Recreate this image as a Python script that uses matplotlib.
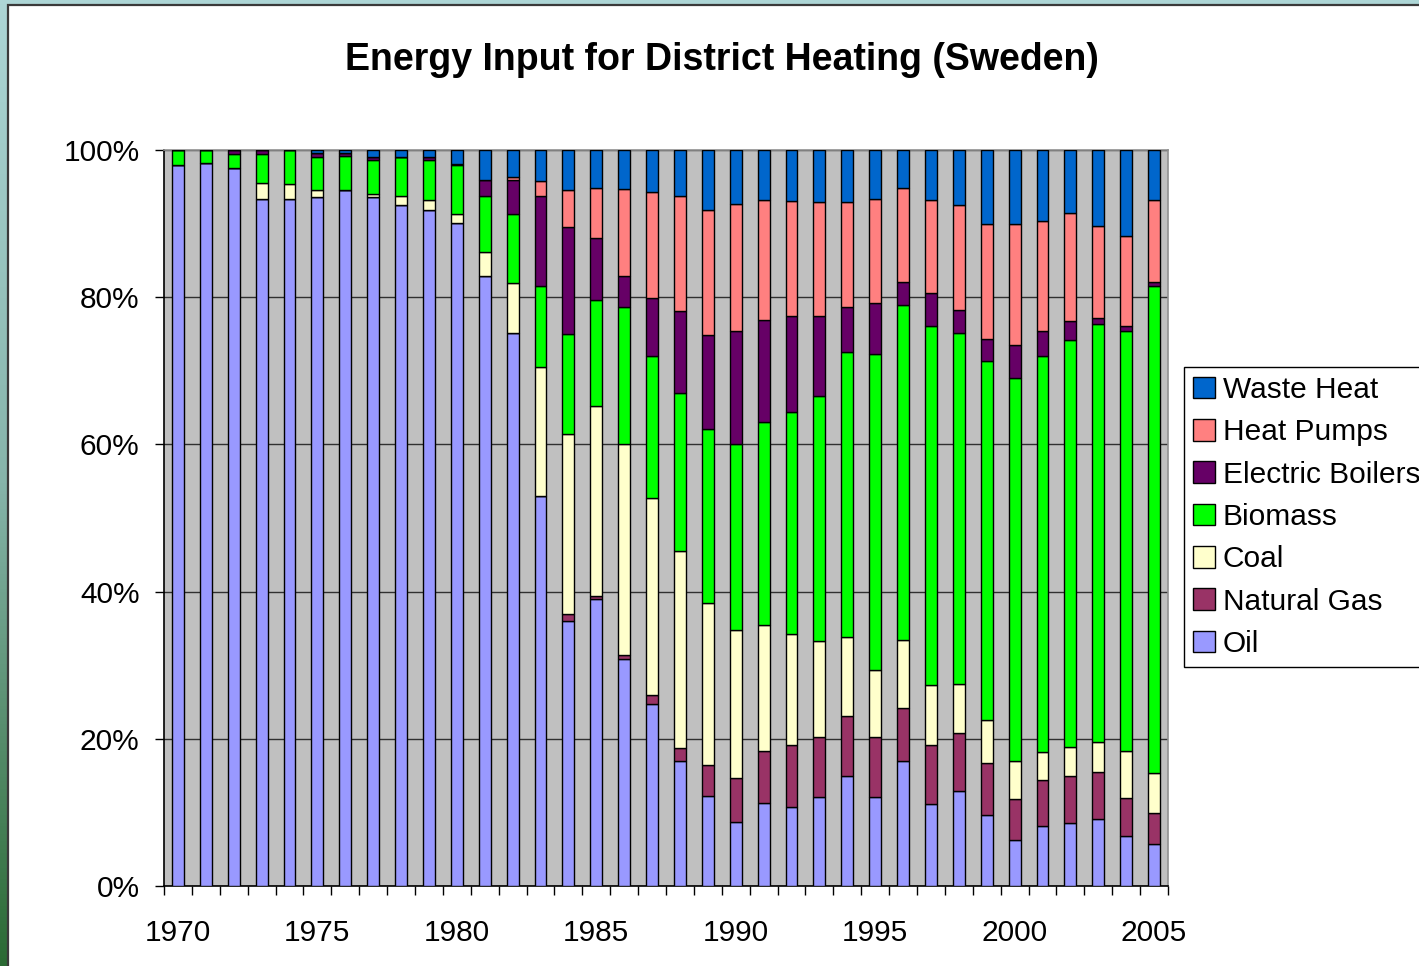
import numpy as np
import matplotlib.pyplot as plt
from matplotlib.patches import Rectangle
from matplotlib.colors import LinearSegmentedColormap

plt.rcParams['font.family'] = ['Liberation Sans', 'DejaVu Sans']

years = list(range(1970, 2006))

# shares in percent (bottom of stack first)
oil = [98.0, 98.2, 97.55, 93.4, 93.3, 93.6, 94.5, 93.65, 92.5, 91.75,
       90.1, 82.9, 75.1, 53.0, 36.0, 38.95, 30.8, 24.8, 16.9, 12.2,
       8.7, 11.3, 10.8, 12.1, 14.9, 12.1, 16.9, 11.2, 12.9, 9.6,
       6.3, 8.1, 8.5, 9.1, 6.8, 5.7]
natural_gas = [0, 0, 0, 0, 0, 0, 0, 0, 0, 0,
               0, 0, 0, 0, 0.9, 0.4, 0.55, 1.1, 1.85, 4.2,
               6.0, 7.0, 8.35, 8.1, 8.2, 8.1, 7.2, 7.9, 7.8, 7.1,
               5.5, 6.3, 6.4, 6.4, 5.1, 4.2]
coal = [0, 0, 0, 2.05, 2.1, 0.9, 0, 0.35, 1.3, 1.45,
        1.15, 3.3, 6.7, 17.4, 24.4, 25.9, 28.7, 26.8, 26.7, 22.0,
        20.0, 17.1, 15.1, 13.1, 10.7, 9.1, 9.3, 8.2, 6.7, 5.8,
        5.1, 3.8, 4.0, 4.0, 6.5, 5.5]
biomass = [2.0, 1.8, 1.85, 3.95, 4.6, 4.5, 4.7, 4.7, 5.2, 5.4,
           6.6, 7.6, 9.4, 11.1, 13.6, 14.35, 18.7, 19.3, 21.4, 23.6,
           25.3, 27.6, 30.2, 33.3, 38.7, 42.9, 45.5, 48.8, 47.7, 48.8,
           52.0, 53.8, 55.3, 56.8, 57.0, 66.1]
electric_boilers = [0, 0, 0.6, 0.6, 0, 0.55, 0.35, 0.3, 0, 0.45,
                    0.2, 2.2, 4.65, 12.2, 14.4, 8.4, 4.2, 7.9, 11.1, 12.7,
                    15.35, 13.85, 12.95, 10.8, 6.1, 6.9, 3.1, 4.5, 3.1, 3.0,
                    4.5, 3.3, 2.5, 0.9, 0.7, 0.6]
heat_pumps = [0, 0, 0, 0, 0, 0, 0, 0, 0, 0,
              0, 0, 0.45, 2.0, 5.1, 6.9, 11.8, 14.5, 15.5, 16.9,
              17.3, 16.35, 15.7, 15.5, 14.3, 14.2, 12.7, 12.6, 14.2, 15.5,
              16.4, 14.9, 14.8, 12.5, 12.2, 11.1]
waste_heat = [0, 0, 0, 0, 0, 0.45, 0.45, 1.0, 1.0, 0.9,
              1.9, 4.1, 3.6, 4.2, 5.4, 5.1, 5.3, 5.65, 6.3, 8.2,
              7.3, 6.75, 6.9, 7.1, 7.0, 6.6, 5.2, 6.8, 7.5, 10.1,
              10.1, 9.7, 8.5, 10.3, 11.7, 6.8]

series = [('Oil', oil, '#9999FF'),
          ('Natural Gas', natural_gas, '#993366'),
          ('Coal', coal, '#FFFFCC'),
          ('Biomass', biomass, '#00FF00'),
          ('Electric Boilers', electric_boilers, '#660066'),
          ('Heat Pumps', heat_pumps, '#FF8080'),
          ('Waste Heat', waste_heat, '#0066CC')]

W, H = 1419, 966
fig = plt.figure(figsize=(W / 100, H / 100), dpi=100)

# slide background gradient + white panel
bg = fig.add_axes([0, 0, 1, 1], zorder=-10)
cmap = LinearSegmentedColormap.from_list('bg', ['#ADD6D6', '#86B4AA', '#2B6A34'])
bg.imshow(np.linspace(0, 1, 256).reshape(-1, 1), aspect='auto', cmap=cmap,
          extent=[0, 1, 0, 1])
bg.set_xlim(0, 1)
bg.set_ylim(0, 1)
bg.axis('off')
bg.add_patch(Rectangle((8 / W, -0.01), 1.0, 1 - 5 / H + 0.01, facecolor='white',
                       edgecolor='#3A3A3A', linewidth=1.6))

ax = fig.add_axes([164 / W, 1 - 886 / H, (1168 - 164) / W, (886 - 150) / H])
ax.set_facecolor('#C0C0C0')

totals = np.sum([np.array(s[1], dtype=float) for s in series], axis=0)
x = np.arange(len(years))
bottom = np.zeros(len(years))
handles = []
for name, vals, col in series:
    v = np.array(vals, dtype=float) / totals * 100
    b = ax.bar(x, v, 0.43, bottom=bottom, color=col, edgecolor='black',
               linewidth=1.0, label=name, zorder=3)
    handles.append(b)
    bottom += v

ax.set_xlim(-0.5, len(years) - 0.5)
ax.set_ylim(0, 100)
ax.set_yticks(range(0, 101, 20))
ax.set_yticklabels([f'{t}%' for t in range(0, 101, 20)], fontsize=21.5)
ax.yaxis.grid(True, color='#303030', linewidth=1.0, zorder=1)
ax.set_axisbelow(True)

ax.set_xticks(np.arange(len(years) + 1) - 0.5)
ax.set_xticklabels([])
ax.set_xticks(x[::5], minor=True)
ax.set_xticklabels([str(y) for y in years[::5]], minor=True, fontsize=21.5)
ax.tick_params(axis='x', which='major', length=6.5, width=1, color='black', direction='out')
ax.tick_params(axis='x', which='minor', length=0, pad=24)
ax.tick_params(axis='y', length=6.5, width=1, pad=11)

for s in ['top', 'right']:
    ax.spines[s].set_color('#909090')
    ax.spines[s].set_linewidth(1.2)
for s in ['left', 'bottom']:
    ax.spines[s].set_color('black')
    ax.spines[s].set_linewidth(1.2)

fig.text(722 / W, 1 - 60 / H, 'Energy Input for District Heating (Sweden)',
         ha='center', va='center', fontsize=27, fontweight='bold')

leg = fig.legend(handles[::-1], [s[0] for s in series][::-1],
                 loc='upper left', bbox_to_anchor=(1184 / W, 1 - 367 / H),
                 fontsize=21.5, frameon=True, fancybox=False, edgecolor='black',
                 framealpha=1, handlelength=0.75, handleheight=0.75,
                 handletextpad=0.25, labelspacing=0.48, borderpad=0.3,
                 borderaxespad=0)
leg.get_frame().set_linewidth(1.0)

fig.savefig('out.png', dpi=100)
